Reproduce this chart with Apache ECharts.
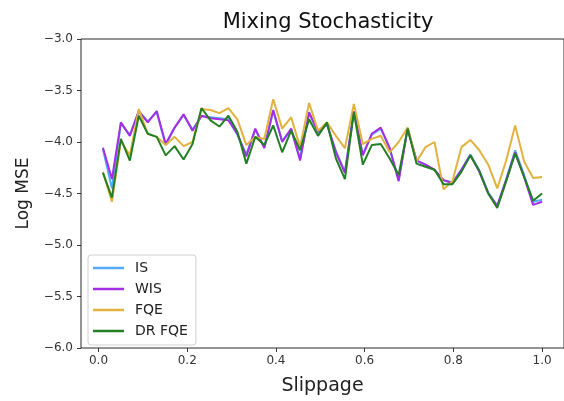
<!DOCTYPE html>
<html>
<head>
<meta charset="utf-8">
<script src="https://cdn.jsdelivr.net/npm/echarts@6/dist/echarts.min.js"></script>
<style>html,body{margin:0;padding:0;background:#fff;}#c{width:564px;height:401px;}</style>
</head>
<body>
<div id="c"></div>
<script>
var slippage = [0.0100,0.0302,0.0504,0.0706,0.0908,0.1110,0.1312,0.1514,0.1716,0.1918,
  0.2120,0.2322,0.2524,0.2727,0.2929,0.3131,0.3333,0.3535,0.3737,0.3939,
  0.4141,0.4343,0.4545,0.4747,0.4949,0.5151,0.5353,0.5555,0.5757,0.5959,
  0.6161,0.6363,0.6565,0.6767,0.6969,0.7171,0.7373,0.7576,0.7778,0.7980,
  0.8182,0.8384,0.8586,0.8788,0.8990,0.9192,0.9394,0.9596,0.9798,1.0000];

var isVals = [-4.07,-4.45,-3.82,-3.93,-3.70,-3.80,-3.71,-4.03,-3.86,-3.74,
  -3.88,-3.75,-3.76,-3.77,-3.78,-3.93,-4.12,-3.88,-4.05,-3.70,
  -3.99,-3.88,-4.16,-3.72,-3.91,-3.83,-4.09,-4.29,-3.70,-4.12,
  -3.93,-3.87,-4.06,-4.37,-3.87,-4.18,-4.22,-4.27,-4.37,-4.39,
  -4.27,-4.12,-4.28,-4.49,-4.62,-4.36,-4.08,-4.32,-4.58,-4.56];

var wisVals = [-4.055,-4.36,-3.81,-3.94,-3.70,-3.81,-3.70,-4.02,-3.86,-3.73,
  -3.89,-3.745,-3.77,-3.78,-3.79,-3.92,-4.14,-3.87,-4.06,-3.69,
  -4.00,-3.87,-4.18,-3.71,-3.90,-3.825,-4.10,-4.30,-3.70,-4.13,
  -3.92,-3.86,-4.06,-4.38,-3.87,-4.18,-4.22,-4.27,-4.37,-4.40,
  -4.27,-4.13,-4.29,-4.50,-4.62,-4.37,-4.10,-4.34,-4.61,-4.58];

var fqeVals = [-4.29,-4.58,-3.99,-4.13,-3.68,-3.92,-3.95,-4.03,-3.95,-4.04,
  -4.00,-3.68,-3.69,-3.72,-3.67,-3.78,-4.03,-3.95,-3.97,-3.585,
  -3.87,-3.76,-4.05,-3.62,-3.89,-3.81,-3.94,-4.06,-3.63,-4.02,
  -3.97,-3.94,-4.10,-4.00,-3.86,-4.19,-4.05,-4.00,-4.46,-4.38,
  -4.05,-3.98,-4.08,-4.22,-4.45,-4.18,-3.84,-4.19,-4.35,-4.34];

var drfqeVals = [-4.30,-4.54,-3.97,-4.18,-3.745,-3.92,-3.95,-4.13,-4.04,-4.17,
  -4.02,-3.67,-3.79,-3.85,-3.745,-3.90,-4.21,-3.95,-4.03,-3.84,
  -4.10,-3.89,-4.08,-3.78,-3.94,-3.81,-4.16,-4.36,-3.71,-4.22,
  -4.03,-4.02,-4.16,-4.32,-3.87,-4.21,-4.24,-4.27,-4.41,-4.41,
  -4.29,-4.13,-4.28,-4.50,-4.64,-4.38,-4.11,-4.34,-4.57,-4.50];

var seriesNames = ['IS','WIS','FQE','DR FQE'];
var seriesColors = ['#55a9f5','#a32ee6','#e2b23f','#237f23'];
var xTicks = [0.0,0.2,0.4,0.6,0.8,1.0];

function pairs(vals){ return slippage.map(function(x,i){ return [x, vals[i]]; }); }
var allVals = [isVals, wisVals, fqeVals, drfqeVals];

function fmt(v){ var s = v.toFixed(1); return s.replace('-', '\u2212'); }

var chart = echarts.init(document.getElementById('c'), null, {renderer:'canvas'});
var font = 'DejaVu Sans';
chart.setOption({
  animation: false,
  backgroundColor: '#fff',
  title: {
    text: 'Mixing Stochasticity',
    left: 323, top: 7, textAlign: 'center',
    textStyle: {fontFamily: font, fontSize: 21, fontWeight: 'normal', color: '#111'}
  },
  grid: {
    left: 81, top: 39, width: 485, height: 313,
    show: true, borderColor: '#111', borderWidth: 0.9, backgroundColor: 'transparent',
    containLabel: false
  },
  legend: {
    orient: 'vertical', left: 88, top: 255,
    data: seriesNames,
    icon: 'rect', itemWidth: 31, itemHeight: 2.5, itemGap: 7,
    backgroundColor: 'rgba(255,255,255,0.85)', borderColor: '#d0d0d0', borderWidth: 1, borderRadius: 3,
    padding: [6, 8, 7, 5],
    textStyle: {fontFamily: font, fontSize: 14, color: '#222', lineHeight: 14, padding: [0,0,0,6]}
  },
  xAxis: {
    type: 'value', min: -0.0395, max: 1.0495,
    name: 'Slippage', nameLocation: 'middle', nameGap: 29,
    nameTextStyle: {fontFamily: font, fontSize: 19, color: '#222'},
    axisLine: {show: false, onZero: false},
    axisTick: {show: true, length: 4, customValues: xTicks, lineStyle: {color: '#222', width: 0.9}},
    axisLabel: {customValues: xTicks, fontFamily: font, fontSize: 12, color: '#333', margin: 7,
      formatter: function(v){ return fmt(v); }},
    splitLine: {show: false}
  },
  yAxis: {
    type: 'value', min: -6, max: -3, interval: 0.5,
    name: 'Log MSE', nameLocation: 'middle', nameGap: 49, nameRotate: 90,
    nameTextStyle: {fontFamily: font, fontSize: 17, color: '#222'},
    axisLine: {show: false, onZero: false},
    axisTick: {show: true, length: 4, lineStyle: {color: '#222', width: 0.9}},
    axisLabel: {fontFamily: font, fontSize: 12, color: '#333', margin: 8,
      formatter: function(v){ return fmt(v); }},
    splitLine: {show: false}
  },
  series: seriesNames.map(function(n, k){
    return {
      name: n, type: 'line', data: pairs(allVals[k]),
      showSymbol: false, symbol: 'none',
      lineStyle: {color: seriesColors[k], width: 2},
      itemStyle: {color: seriesColors[k]},
      z: 2 + k
    };
  })
});
</script>
</body>
</html>
